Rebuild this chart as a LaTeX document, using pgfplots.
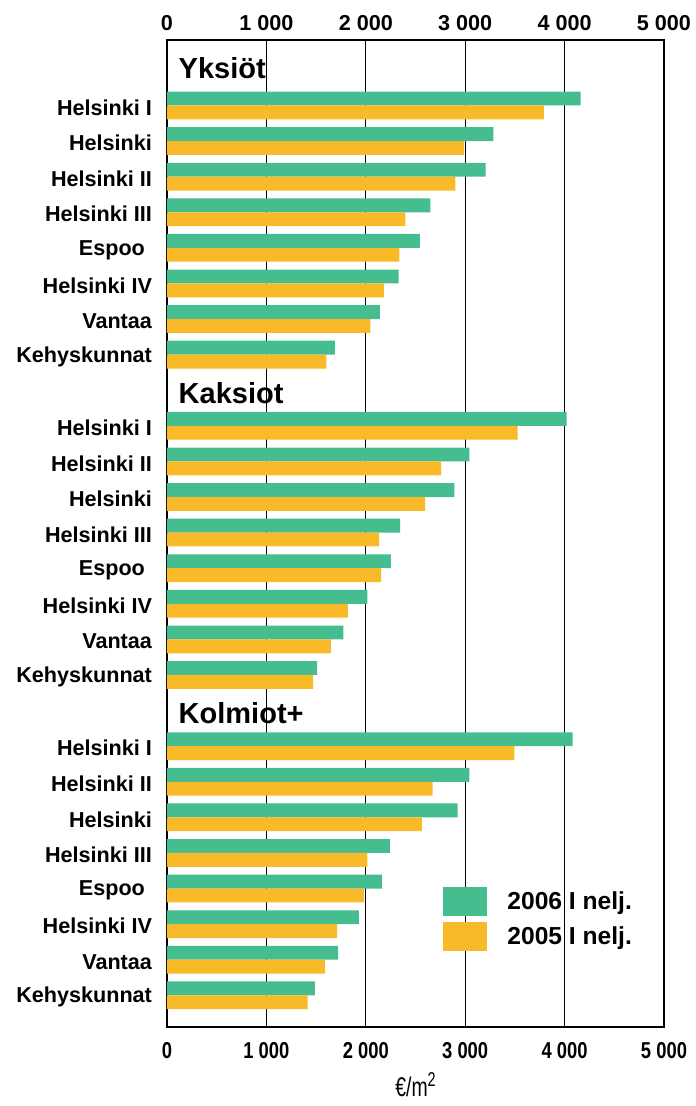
\documentclass[border=0pt]{standalone}
\usepackage{pgfplots}
\pgfplotsset{compat=1.18}
\usepackage{fontspec}
\setmainfont{Liberation Sans}
\newfontfamily\narrowfont[FakeStretch=0.8]{Liberation Sans}
\newfontfamily\unitfont[FakeStretch=0.72]{Liberation Sans}
\definecolor{vihrea}{RGB}{69,189,143}
\definecolor{keltainen}{RGB}{248,186,40}

\begin{document}
\begin{tikzpicture}
\path[use as bounding box] (-83.5pt,-39.5pt) rectangle (264pt,513.5pt);
\begin{axis}[
  at={(0,0)}, anchor=south west,
  scale only axis,
  width=248.5pt, height=493.5pt,
  xbar, bar width=0.39,
  xmin=0, xmax=5000,
  ymin=-25.89, ymax=1.84,
  xtick={0,1000,2000,3000,4000,5000},
  xticklabels={0,1 000,2 000,3 000,4 000,5 000},
  xticklabel pos=upper,
  x tick label style={font=\fontsize{10.8}{12}\selectfont\bfseries, yshift=1pt},
  major tick length=0pt,
  xmajorgrids, grid style={black, line width=0.5pt},
  ytick={0,-1,-2,-3,-4,-5,-6,-7,-9,-10,-11,-12,-13,-14,-15,-16,-18,-19,-20,-21,-22,-23,-24,-25},
  yticklabels={Helsinki I,Helsinki,Helsinki II,Helsinki III,{Espoo\kern3.5pt},Helsinki IV,Vantaa,Kehyskunnat,
               Helsinki I,Helsinki II,Helsinki,Helsinki III,{Espoo\kern3.5pt},Helsinki IV,Vantaa,Kehyskunnat,
               Helsinki I,Helsinki II,Helsinki,Helsinki III,{Espoo\kern3.5pt},Helsinki IV,Vantaa,Kehyskunnat},
  y tick label style={font=\fontsize{10.8}{12}\selectfont\bfseries, xshift=-4pt, yshift=-1pt},
  axis line style={black, line width=0.75pt},
  legend style={at={(axis cs:2777,-21.95)}, anchor=north west, draw=none, fill=none,
                font=\fontsize{12.3}{14}\selectfont\bfseries, row sep=3pt,
                inner sep=0pt},
  legend cell align=left,
  legend image code/.code={\fill[#1] (0pt,-7.25pt) rectangle (22pt,7.25pt);},
]
% 2006 I nelj.
\addplot[fill=vihrea, draw=none, bar shift=0.195] coordinates {
  (4161,0) (3283,-1) (3206,-2) (2650,-3) (2543,-4) (2331,-5) (2141,-6) (1688,-7)
  (4020,-9) (3042,-10) (2891,-11) (2345,-12) (2251,-13) (2016,-14) (1775,-15) (1511,-16)
  (4080,-18) (3042,-19) (2925,-20) (2241,-21) (2161,-22) (1930,-23) (1722,-24) (1487,-25)
};
% 2005 I nelj.
\addplot[fill=keltainen, draw=none, bar shift=-0.195] coordinates {
  (3792,0) (2988,-1) (2901,-2) (2398,-3) (2338,-4) (2181,-5) (2047,-6) (1604,-7)
  (3528,-9) (2757,-10) (2596,-11) (2134,-12) (2154,-13) (1819,-14) (1648,-15) (1470,-16)
  (3494,-18) (2673,-19) (2563,-20) (2016,-21) (1980,-22) (1712,-23) (1588,-24) (1414,-25)
};
\legend{\hspace{8pt}2006 I nelj.,\hspace{8pt}2005 I nelj.}
\node[anchor=base west, font=\fontsize{14.5}{16}\selectfont\bfseries, inner sep=0pt] at (axis cs:114,0.764) {Yksiöt};
\node[anchor=base west, font=\fontsize{14.5}{16}\selectfont\bfseries, inner sep=0pt] at (axis cs:114,-8.365) {Kaksiot};
\node[anchor=base west, font=\fontsize{14.5}{16}\selectfont\bfseries, inner sep=0pt] at (axis cs:114,-17.354) {Kolmiot+};
\end{axis}
\begin{axis}[
  at={(0,0)}, anchor=south west,
  scale only axis,
  width=248.5pt, height=493.5pt,
  xmin=0, xmax=5000, ymin=0, ymax=1,
  axis line style={draw=none},
  ytick=\empty,
  xtick={0,1000,2000,3000,4000,5000},
  xticklabels={0,1 000,2 000,3 000,4 000,5 000},
  xticklabel pos=lower,
  x tick label style={font=\narrowfont\fontsize{11.5}{12}\selectfont\bfseries, yshift=-4pt},
  major tick length=0pt,
  xlabel={\unitfont\fontsize{13.5}{15}\selectfont €/m\raisebox{5pt}{\fontsize{10}{11}\selectfont 2}},
  xlabel style={yshift=0pt},
]
\end{axis}
\end{tikzpicture}
\end{document}
